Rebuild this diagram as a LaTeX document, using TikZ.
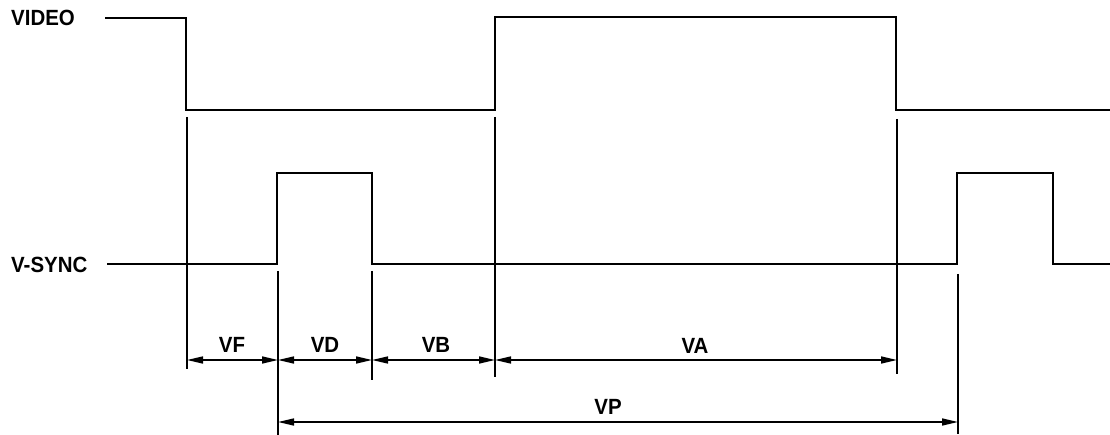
\documentclass[tikz,border=0pt]{standalone}
\usepackage{fontspec}
\setmainfont{Liberation Sans}
\usetikzlibrary{arrows.meta}
\newcommand{\lbltxt}[1]{\scalebox{0.93}[1]{#1}}
\begin{document}
\begin{tikzpicture}[x=1pt,y=-1pt,
  wave/.style={line width=2pt,line join=miter},
  extline/.style={line width=1.5pt},
  dim/.style={line width=1.6pt,{Triangle[length=16pt,width=7pt]}-{Triangle[length=16pt,width=7pt]}},
  lbl/.style={font=\bfseries\fontsize{22}{26}\selectfont,inner sep=0pt}]
\useasboundingbox (0,0) rectangle (1110,435);
% signal names
\node[lbl,anchor=west] (video) at (11,18) {\lbltxt{VIDEO}};
\node[lbl,anchor=west] (vsync) at (11,265) {\lbltxt{V-SYNC}};
% VIDEO waveform
\coordinate (v0) at (105,18);
\coordinate (v1) at (186,18);
\coordinate (v2) at (186,110);
\coordinate (v3) at (495,110);
\coordinate (v4) at (495,17);
\coordinate (v5) at (896,17);
\coordinate (v6) at (896,110);
\coordinate (v7) at (1110,110);
\draw[wave] (v0) -- (v1) -- (v2) -- (v3) -- (v4) -- (v5) -- (v6) -- (v7);
% V-SYNC waveform
\coordinate (s0) at (107,264);
\coordinate (s1) at (277,264);
\coordinate (s2) at (277,173);
\coordinate (s3) at (372,173);
\coordinate (s4) at (372,264);
\coordinate (s5) at (957,264);
\coordinate (s6) at (957,173);
\coordinate (s7) at (1053,173);
\coordinate (s8) at (1053,264);
\coordinate (s9) at (1110,264);
\draw[wave] (s0) -- (s1) -- (s2) -- (s3) -- (s4) -- (s5) -- (s6) -- (s7) -- (s8) -- (s9);
% extension lines
\coordinate (e1a) at (187,117); \coordinate (e1b) at (187,369);
\coordinate (e2a) at (278,271); \coordinate (e2b) at (278,435);
\coordinate (e3a) at (372,271); \coordinate (e3b) at (372,380);
\coordinate (e4a) at (495,117); \coordinate (e4b) at (495,377);
\coordinate (e5a) at (897,119); \coordinate (e5b) at (897,374);
\coordinate (e6a) at (958,274); \coordinate (e6b) at (958,434);
\draw[extline] (e1a) -- (e1b);
\draw[extline] (e2a) -- (e2b);
\draw[extline] (e3a) -- (e3b);
\draw[extline] (e4a) -- (e4b);
\draw[extline] (e5a) -- (e5b);
\draw[extline] (e6a) -- (e6b);
% dimension arrows
\coordinate (d1) at (187,360);
\coordinate (d2) at (278,360);
\coordinate (d3) at (372,360);
\coordinate (d4) at (495,360);
\coordinate (d5) at (897,360);
\coordinate (p1) at (278,422);
\coordinate (p2) at (958,422);
\draw[dim] (d1) -- (d2);
\draw[dim] (d2) -- (d3);
\draw[dim] (d3) -- (d4);
\draw[dim] (d4) -- (d5);
\draw[dim] (p1) -- (p2);
% labels
\node[lbl] (vf) at (232,345) {\lbltxt{VF}};
\node[lbl] (vd) at (325,345) {\lbltxt{VD}};
\node[lbl] (vb) at (436,345) {\lbltxt{VB}};
\node[lbl] (va) at (695,346) {\lbltxt{VA}};
\node[lbl] (vp) at (608,407) {\lbltxt{VP}};
\end{tikzpicture}
\end{document}
